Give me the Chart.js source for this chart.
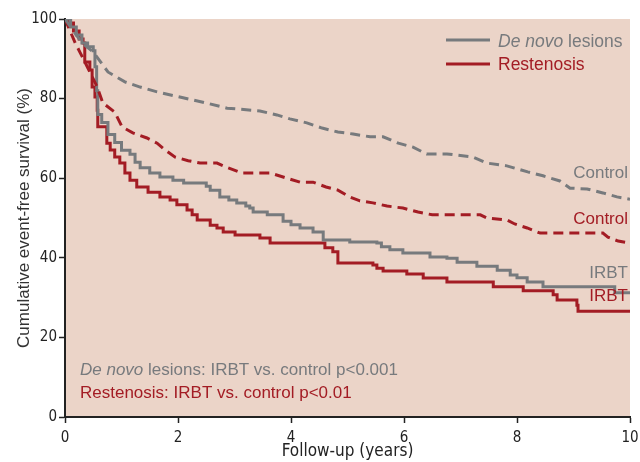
<!DOCTYPE html>
<html>
<head>
<meta charset="utf-8">
<script src="https://cdn.jsdelivr.net/npm/chart.js@4"></script>
<style>
  html, body { margin: 0; padding: 0; background: #ffffff; }
  #wrap { width: 640px; height: 462px; }
</style>
</head>
<body>
<div id="wrap"><canvas id="kmChart" width="640" height="462"></canvas></div>
<script>
// Kaplan-Meier curves (time in years, survival in %)
const denovoIrbtTime = [0, 0.1, 0.2, 0.3, 0.4, 0.5, 0.53, 0.56, 0.58, 0.65, 0.76, 0.88, 1.0, 1.15, 1.24, 1.33, 1.5, 1.68, 1.91, 2.1, 2.5, 2.57, 2.74, 2.9, 3.04, 3.2, 3.27, 3.33, 3.58, 3.86, 4.0, 4.16, 4.39, 4.57, 5.04, 5.52, 5.6, 5.75, 5.98, 6.46, 6.76, 6.94, 7.29, 7.65, 7.88, 8.0, 8.18, 8.46, 9.73, 10];
const denovoIrbtSurv = [100, 98, 96, 94, 93, 92, 88, 82, 76, 74, 71, 69, 67, 66, 64, 62.6, 61.3, 60.3, 59.5, 58.8, 58.0, 57.0, 55.3, 54.5, 53.8, 53, 52.5, 51.5, 50.8, 49.2, 48.3, 47.5, 46.5, 44.5, 44.0, 43.7, 42.8, 42.0, 41.2, 40.2, 39.9, 38.9, 37.9, 36.9, 35.7, 35, 33.9, 32.7, 31.2, 31.2];

const restenIrbtTime = [0, 0.05, 0.15, 0.25, 0.32, 0.35, 0.44, 0.48, 0.53, 0.57, 0.58, 0.74, 0.8, 0.88, 0.97, 1.06, 1.15, 1.27, 1.47, 1.68, 1.86, 1.98, 2.16, 2.25, 2.34, 2.57, 2.69, 2.8, 3.01, 3.45, 3.63, 4.6, 4.74, 4.83, 5.45, 5.52, 5.63, 6.05, 6.34, 6.76, 7.58, 8.11, 8.64, 8.71, 9.06, 9.08, 10];
const restenIrbtSurv = [100, 99, 97, 95, 94, 89.2, 87.2, 82.9, 80.4, 77.1, 72.9, 68.8, 67.1, 65.3, 63.8, 61.3, 59.5, 57.8, 56.5, 55.3, 54.5, 53.3, 52.0, 50.8, 49.5, 48.2, 47.5, 46.5, 45.7, 45.0, 43.7, 42.5, 41.5, 38.7, 38.2, 37.4, 36.7, 35.9, 34.9, 33.9, 32.7, 31.7, 30.7, 29.4, 28.1, 26.6, 26.6];

const denovoCtrlTime = [0, 0.3, 0.5, 0.76, 1.06, 1.33, 1.63, 2.09, 2.44, 2.87, 3.45, 3.75, 3.98, 4.28, 4.55, 4.83, 5.1, 5.4, 5.63, 5.9, 6.16, 6.4, 6.76, 7.22, 7.47, 7.82, 8.19, 8.46, 8.76, 8.94, 9.24, 9.52, 9.77, 10];
const denovoCtrlSurv = [100, 94, 91.7, 86.7, 84.2, 82.9, 81.7, 80.2, 79.1, 77.6, 76.9, 75.9, 74.9, 73.9, 72.6, 71.6, 71.1, 70.4, 70.4, 68.8, 67.8, 66.1, 66.1, 65.3, 63.8, 63.1, 61.6, 60.6, 59.3, 57.5, 57.3, 56.3, 55.3, 54.7];

const restenCtrlTime = [0, 0.18, 0.27, 0.44, 0.57, 0.67, 0.88, 1.01, 1.2, 1.45, 1.63, 1.77, 1.95, 2.18, 2.39, 2.69, 2.87, 3.13, 3.63, 3.86, 4.16, 4.39, 4.62, 4.83, 5.04, 5.22, 5.45, 5.7, 5.98, 6.25, 6.5, 7.35, 7.47, 7.82, 7.96, 8.18, 8.41, 9.52, 9.61, 9.79, 10];
const restenCtrlSurv = [100, 94, 91.5, 86.7, 82.9, 78.9, 76.6, 72.9, 71.4, 70.1, 68.8, 67.1, 65.3, 64.4, 63.8, 63.8, 62.7, 61.3, 61.3, 60.3, 59.0, 59.0, 57.8, 57.0, 55.3, 54.3, 53.8, 53.0, 52.5, 51.5, 50.8, 50.8, 50.0, 49.5, 48.5, 47.5, 46.2, 46.2, 45.2, 44.2, 43.7];

const xTicks = [0, 2, 4, 6, 8, 10];
const yTicks = [0, 20, 40, 60, 80, 100];

const GREY = '#777a7d';
const RED = '#a31c24';
const PANEL = '#ebd4c8';
const NARROW = "'Liberation Sans Narrow', 'DejaVu Sans Condensed', 'Liberation Sans', sans-serif";
const SANS = "'Liberation Sans', 'Noto Sans', sans-serif";

function toPoints(times, surv) {
    return times.map((t, i) => ({ x: t, y: surv[i] }));
}

// pink panel behind the plot area
const panelPlugin = {
    id: 'panel',
    beforeDraw(chart) {
        const { ctx, chartArea: a } = chart;
        ctx.save();
        ctx.fillStyle = PANEL;
        ctx.fillRect(a.left, a.top, a.right - a.left, a.bottom - a.top);
        ctx.restore();
    }
};

// legend, curve labels and p-value notes
const notesPlugin = {
    id: 'notes',
    afterDraw(chart) {
        const { ctx } = chart;
        const xs = chart.scales.x;
        const ys = chart.scales.y;
        ctx.save();
        ctx.textBaseline = 'middle';

        // legend
        ctx.lineWidth = 3;
        ctx.strokeStyle = GREY;
        ctx.beginPath(); ctx.moveTo(446, 40); ctx.lineTo(490, 40); ctx.stroke();
        ctx.strokeStyle = RED;
        ctx.beginPath(); ctx.moveTo(446, 64); ctx.lineTo(490, 64); ctx.stroke();

        ctx.textAlign = 'left';
        ctx.fillStyle = GREY;
        ctx.font = 'italic 17.5px ' + SANS;
        ctx.fillText('De novo', 498, 42);
        let w = ctx.measureText('De novo ').width;
        ctx.font = '17.5px ' + SANS;
        ctx.fillText('lesions', 498 + w, 42);
        ctx.fillStyle = RED;
        ctx.fillText('Restenosis', 498, 65);

        // p-values
        ctx.fillStyle = GREY;
        ctx.font = 'italic 17px ' + SANS;
        ctx.fillText('De novo', 80, 370);
        w = ctx.measureText('De novo ').width;
        ctx.font = '17px ' + SANS;
        ctx.fillText('lesions: IRBT vs. control p<0.001', 80 + w, 370);
        ctx.fillStyle = RED;
        ctx.fillText('Restenosis: IRBT vs. control p<0.01', 80, 393);

        // curve end labels
        ctx.textAlign = 'right';
        ctx.font = '17px ' + SANS;
        const xr = xs.getPixelForValue(10) - 2;
        ctx.fillStyle = GREY;
        ctx.fillText('Control', xr, ys.getPixelForValue(61.3));
        ctx.fillText('IRBT', xr, ys.getPixelForValue(36.1));
        ctx.fillStyle = RED;
        ctx.fillText('Control', xr, ys.getPixelForValue(49.7));
        ctx.fillText('IRBT', xr, ys.getPixelForValue(30.3));
        ctx.restore();
    }
};

const ctx = document.getElementById('kmChart');
new Chart(ctx, {
    type: 'line',
    data: {
        datasets: [
            {
                label: 'De novo control',
                data: toPoints(denovoCtrlTime, denovoCtrlSurv),
                borderColor: GREY,
                borderWidth: 3,
                borderDash: [10, 6],
                pointRadius: 0,
                tension: 0
            },
            {
                label: 'Restenosis control',
                data: toPoints(restenCtrlTime, restenCtrlSurv),
                borderColor: RED,
                borderWidth: 3,
                borderDash: [10, 6],
                pointRadius: 0,
                tension: 0
            },
            {
                label: 'De novo IRBT',
                data: toPoints(denovoIrbtTime, denovoIrbtSurv),
                borderColor: GREY,
                borderWidth: 3,
                stepped: 'before',
                pointRadius: 0
            },
            {
                label: 'Restenosis IRBT',
                data: toPoints(restenIrbtTime, restenIrbtSurv),
                borderColor: RED,
                borderWidth: 3,
                stepped: 'before',
                pointRadius: 0
            }
        ]
    },
    options: {
        responsive: false,
        animation: false,
        layout: { padding: { top: 19, right: 10, left: 0, bottom: 0 } },
        plugins: {
            legend: { display: false },
            tooltip: { enabled: false }
        },
        scales: {
            x: {
                type: 'linear',
                min: 0,
                max: 10,
                afterBuildTicks(scale) { scale.ticks = xTicks.map(v => ({ value: v })); },
                afterFit(scale) {
                    scale.height = 45;
                    scale.paddingLeft = 0;
                    scale.paddingRight = 0;
                },
                grid: { drawOnChartArea: false, color: '#222', tickLength: 6, tickWidth: 1.5 },
                border: { display: true, color: '#222', width: 2 },
                ticks: { color: '#222', font: { family: NARROW, size: 15 }, padding: 6 },
                title: {
                    display: true,
                    text: 'Follow-up (years)',
                    color: '#222',
                    font: { family: NARROW, size: 17 },
                    padding: { top: 0, bottom: 0 }
                }
            },
            y: {
                min: 0,
                max: 100,
                afterBuildTicks(scale) { scale.ticks = yTicks.map(v => ({ value: v })); },
                afterFit(scale) {
                    scale.width = 65;
                    scale.paddingTop = 0;
                    scale.paddingBottom = 0;
                },
                grid: { drawOnChartArea: false, color: '#222', tickLength: 6, tickWidth: 1.5 },
                border: { display: true, color: '#222', width: 2 },
                ticks: { color: '#222', font: { family: NARROW, size: 15 }, padding: 2 },
                title: {
                    display: true,
                    text: 'Cumulative event-free survival (%)',
                    color: '#333',
                    font: { family: SANS, size: 17 },
                    padding: { top: 14, bottom: 4 }
                }
            }
        }
    },
    plugins: [panelPlugin, notesPlugin]
});
</script>
</body>
</html>
